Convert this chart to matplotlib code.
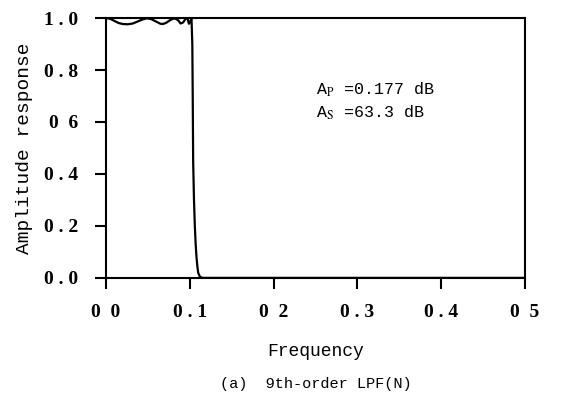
import matplotlib
matplotlib.use('Agg')
import matplotlib.pyplot as plt

# amplitude response of the 9th-order LPF
freq = [0.0, 0.005, 0.01, 0.015, 0.02, 0.026, 0.032, 0.038, 0.044, 0.049,
        0.054, 0.06, 0.065, 0.068, 0.072, 0.077, 0.082, 0.086, 0.089, 0.092,
        0.095, 0.097, 0.099, 0.101, 0.102, 0.103, 0.1035, 0.104, 0.105,
        0.106, 0.107, 0.108, 0.109, 0.11, 0.112, 0.115, 0.2, 0.3, 0.4, 0.5]
amp = [1.0, 0.997, 0.989, 0.981, 0.977, 0.976, 0.979, 0.987, 0.995, 0.999,
       0.996, 0.986, 0.978, 0.977, 0.982, 0.993, 0.999, 0.992, 0.979, 0.983,
       0.997, 1.0, 0.978, 0.99, 1.0, 0.9, 0.7, 0.45, 0.3,
       0.2, 0.13, 0.08, 0.045, 0.02, 0.005, 0.0, 0.0, 0.0, 0.0, 0.0]

xticks = [0.0, 0.1, 0.2, 0.3, 0.4, 0.5]
xticklabels = ['0  0', '0 . 1', '0  2', '0 . 3', '0 . 4', '0  5']
yticks = [0.0, 0.2, 0.4, 0.6, 0.8, 1.0]
yticklabels = ['0 . 0', '0 . 2', '0 . 4', '0  6', '0 . 8', '1 . 0']

plt.rcParams['mathtext.fontset'] = 'stix'

fig = plt.figure(figsize=(5.62, 4.01), dpi=100)
ax = fig.add_axes([0.1886, 0.307, 0.7456, 0.648])
ax.plot(freq, amp, 'k-', lw=1.6)
ax.set_xlim(0, 0.5)
ax.set_ylim(0, 1.0)

ax.set_xticks(xticks)
ax.set_xticklabels(xticklabels, family='Liberation Serif', fontsize=14, weight='bold')
ax.set_yticks(yticks)
ax.set_yticklabels(yticklabels, family='Liberation Serif', fontsize=14, weight='bold')
ax.tick_params(axis='x', direction='out', length=8, width=1.5, pad=11)
ax.tick_params(axis='y', direction='out', length=8, width=1.5, pad=12)
for s in ax.spines.values():
    s.set_linewidth(1.5)

ax.set_ylabel('Amplitude response', family='Liberation Mono', fontsize=14, labelpad=8)
ax.text(0.5, -0.285, 'Frequency', transform=ax.transAxes, ha='center', va='center',
        family='Liberation Mono', fontsize=13)
ax.text(0.5, -0.41, '(a)  9th-order LPF(N)', transform=ax.transAxes, ha='center',
        va='center', family='Liberation Mono', fontsize=11)

ax.text(0.5, 0.725, r'A$_{\mathrm{P}}$ =0.177 dB', transform=ax.transAxes,
        family='Liberation Mono', fontsize=12, va='center')
ax.text(0.5, 0.635, r'A$_{\mathrm{S}}$ =63.3 dB', transform=ax.transAxes,
        family='Liberation Mono', fontsize=12, va='center')

fig.savefig('out.png', dpi=100)
